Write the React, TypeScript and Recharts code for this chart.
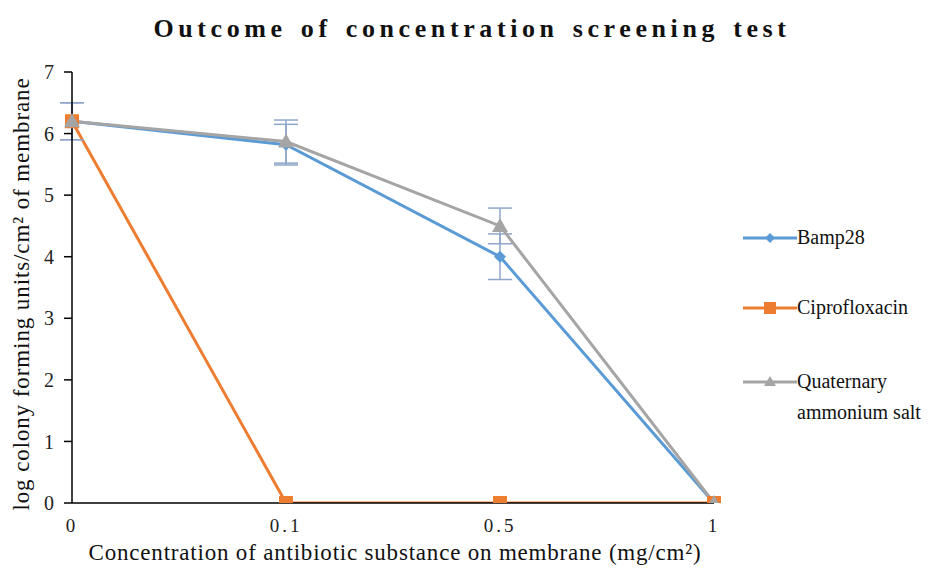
import React from "react";
import { LineChart, Line, XAxis, YAxis, ErrorBar } from "recharts";

const concentrations = ["0", "0.1", "0.5", "1"];
const bamp28 = [6.2, 5.82, 4.0, 0];
const bamp28Err = [0.3, 0.33, 0.37, 0];
const ciprofloxacin = [6.2, 0, 0, 0];
const quaternary = [6.2, 5.87, 4.5, 0];
const quaternaryErr = [0.3, 0.35, 0.29, 0];
const yTicks = [0, 1, 2, 3, 4, 5, 6, 7];

const data = concentrations.map((c, i) => ({
  conc: c,
  bamp28: bamp28[i],
  bamp28Err: bamp28Err[i],
  cipro: ciprofloxacin[i],
  quat: quaternary[i],
  quatErr: quaternaryErr[i],
}));

const BLUE = "#5b9bd5";
const ORANGE = "#ed7d31";
const GRAY = "#a5a5a5";
const ERR = "#8ea6c8";
const FONT = '"Liberation Serif", "DejaVu Serif", serif';

const Diamond = (props: any) => {
  const { cx, cy } = props;
  if (cx == null || cy == null) return null;
  const r = 6;
  return (
    <path
      d={`M${cx},${cy - r}L${cx + r},${cy}L${cx},${cy + r}L${cx - r},${cy}Z`}
      fill={BLUE}
    />
  );
};

const Square = (props: any) => {
  const { cx, cy } = props;
  if (cx == null || cy == null) return null;
  return <rect x={cx - 7} y={cy - 7} width={14} height={14} fill={ORANGE} />;
};

const Triangle = (props: any) => {
  const { cx, cy } = props;
  if (cx == null || cy == null) return null;
  const r = 8;
  return (
    <path
      d={`M${cx},${cy - r}L${cx + r},${cy + r * 0.75}L${cx - r},${cy + r * 0.75}Z`}
      fill={GRAY}
    />
  );
};

const legendItems = [
  { label: ["Bamp28"], color: BLUE, marker: "diamond" },
  { label: ["Ciprofloxacin"], color: ORANGE, marker: "square" },
  { label: ["Quaternary", "ammonium salt"], color: GRAY, marker: "triangle" },
];

const ChartLegend = () => (
  <div
    style={{
      position: "absolute",
      left: 743,
      top: 226,
      fontFamily: FONT,
      fontSize: 20,
      color: "#111",
    }}
  >
    {legendItems.map((it, i) => (
      <div
        key={i}
        style={{
          position: "absolute",
          left: 0,
          top: [0, 70, 144][i],
          display: "flex",
          alignItems: "flex-start",
        }}
      >
        <svg width={54} height={20} style={{ marginTop: 2 }}>
          <line x1={0} y1={10} x2={54} y2={10} stroke={it.color} strokeWidth={3} />
          {it.marker === "diamond" && (
            <path d="M27,5L32,10L27,15L22,10Z" fill={it.color} />
          )}
          {it.marker === "square" && (
            <rect x={21} y={4} width={12} height={12} fill={it.color} />
          )}
          {it.marker === "triangle" && (
            <path d="M27,4L33,14L21,14Z" fill={it.color} />
          )}
        </svg>
        <div style={{ lineHeight: "31px", marginTop: -4, whiteSpace: "nowrap" }}>
          {it.label.map((l, j) => (
            <div key={j}>{l}</div>
          ))}
        </div>
      </div>
    ))}
  </div>
);

export default function App() {
  return (
    <div
      style={{
        position: "absolute",
        left: 0,
        top: 0,
        width: 944,
        height: 573,
        background: "#fff",
        fontFamily: FONT,
      }}
    >
      <div
        style={{
          position: "absolute",
          top: 14,
          left: 0,
          width: 944,
          textAlign: "center",
          fontWeight: "bold",
          fontSize: 26,
          letterSpacing: 4.6,
          wordSpacing: 3,
          color: "#111",
        }}
      >
        Outcome of concentration screening test
      </div>
      <div
        style={{
          position: "absolute",
          left: 22,
          top: 294,
          transform: "translate(-50%, -50%) rotate(-90deg)",
          whiteSpace: "nowrap",
          fontSize: 23,
          letterSpacing: 0.9,
          color: "#111",
        }}
      >
        log colony forming units/cm² of membrane
      </div>
      <div
        style={{
          position: "absolute",
          left: 395,
          top: 553,
          transform: "translate(-50%, -50%)",
          whiteSpace: "nowrap",
          fontSize: 23,
          letterSpacing: 0.8,
          color: "#111",
        }}
      >
        Concentration of antibiotic substance on membrane (mg/cm²)
      </div>
      <LineChart
        width={944}
        height={573}
        data={data}
        margin={{ top: 72, right: 230, bottom: 30, left: 0 }}
      >
        <XAxis
          dataKey="conc"
          height={40}
          axisLine={{ stroke: "#000", strokeWidth: 1.5 }}
          tickLine={false}
          tick={{ fill: "#222", fontSize: 19, fontFamily: FONT, letterSpacing: 3 }}
          tickMargin={10}
          interval={0}
        />
        <YAxis
          width={72}
          domain={[0, 7]}
          ticks={yTicks}
          allowDataOverflow
          axisLine={{ stroke: "#000", strokeWidth: 1.5 }}
          tickLine={{ stroke: "#000", strokeWidth: 1.5 }}
          tickSize={8}
          tickMargin={10}
          tick={{ fill: "#222", fontSize: 20, fontFamily: FONT }}
        />
        <Line
          dataKey="bamp28"
          name="Bamp28"
          stroke={BLUE}
          strokeWidth={3}
          dot={<Diamond />}
          activeDot={false}
          isAnimationActive={false}
        >
          <ErrorBar dataKey="bamp28Err" direction="y" width={12} stroke={ERR} strokeWidth={1.5} />
        </Line>
        <Line
          dataKey="cipro"
          name="Ciprofloxacin"
          stroke={ORANGE}
          strokeWidth={3}
          dot={<Square />}
          activeDot={false}
          isAnimationActive={false}
        />
        <Line
          dataKey="quat"
          name="Quaternary ammonium salt"
          stroke={GRAY}
          strokeWidth={3}
          dot={<Triangle />}
          activeDot={false}
          isAnimationActive={false}
        >
          <ErrorBar dataKey="quatErr" direction="y" width={12} stroke={ERR} strokeWidth={1.5} />
        </Line>
      </LineChart>
      <ChartLegend />
    </div>
  );
}
